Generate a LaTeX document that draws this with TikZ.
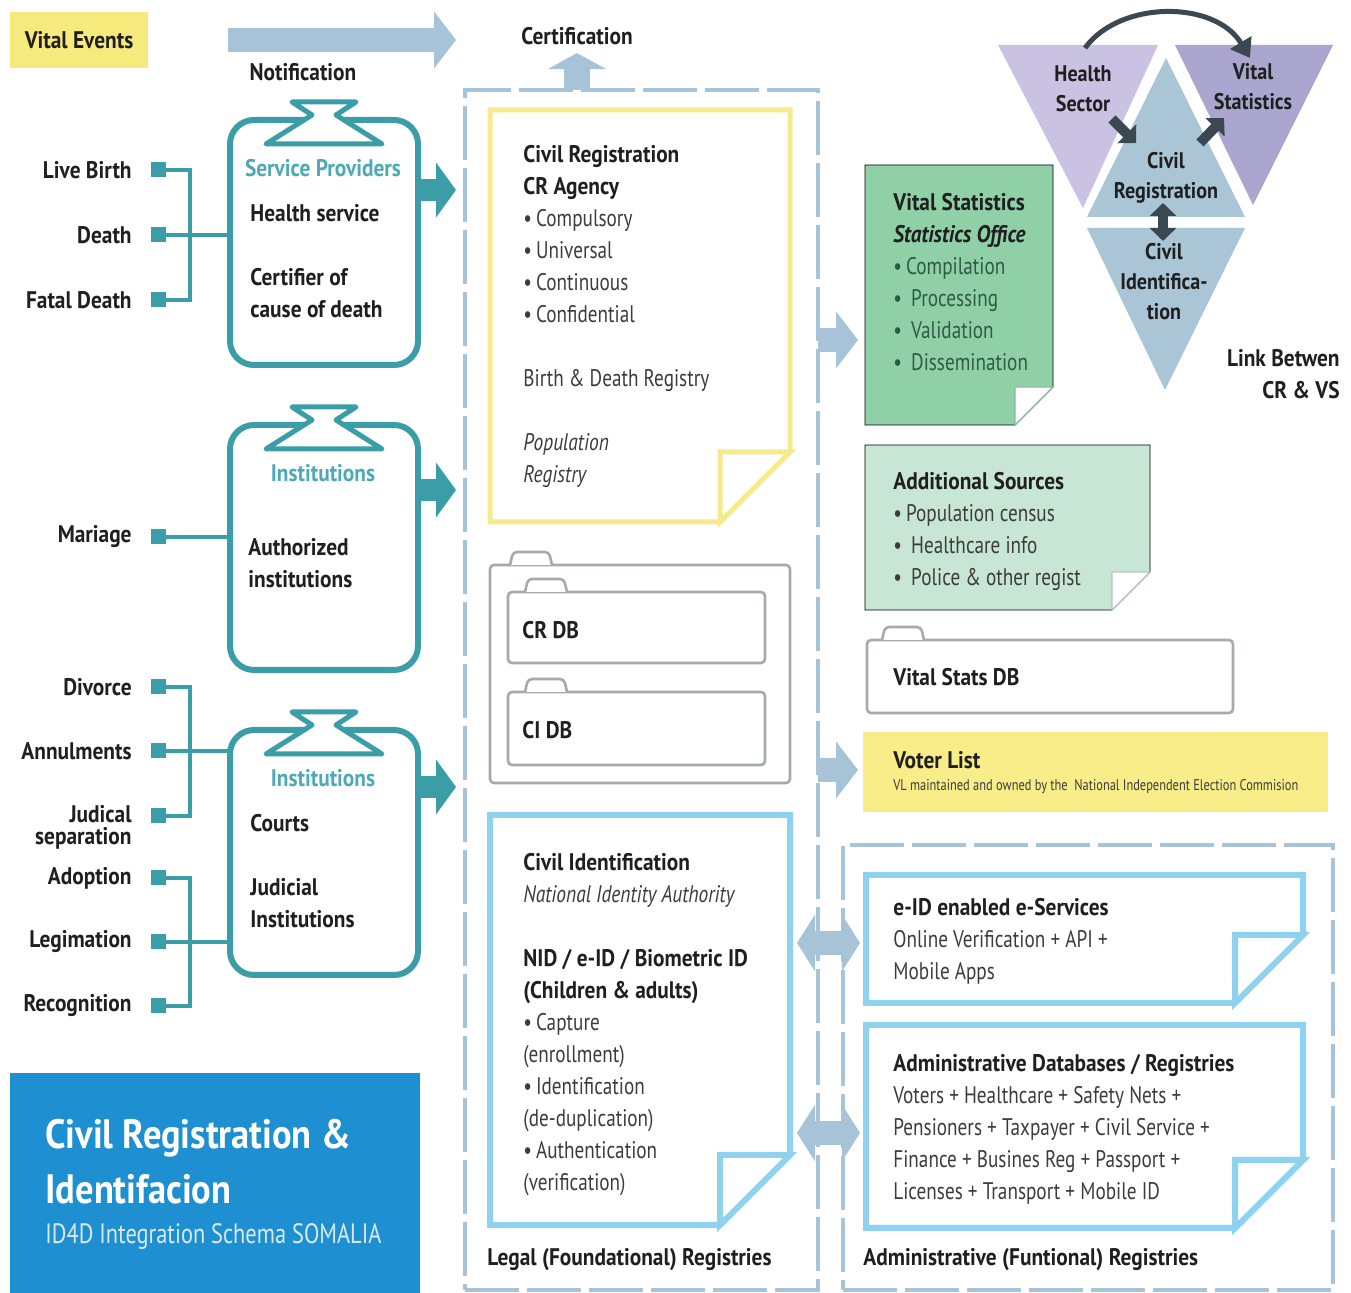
\documentclass[tikz,border=0pt]{standalone}
\usepackage{fontspec}
\setmainfont{PT Sans}[UprightFeatures={FakeStretch=0.80}, BoldFeatures={FakeStretch=0.89},
  ItalicFeatures={FakeStretch=0.81}, BoldItalicFeatures={FakeStretch=0.88}]
\usetikzlibrary{arrows.meta}

\definecolor{ink}{HTML}{1F1F1F}
\definecolor{bodygrey}{HTML}{3C3C3C}
\definecolor{provteal}{HTML}{3A9DA8}
\definecolor{headteal}{HTML}{4DAAB4}
\definecolor{flowblue}{HTML}{A7C3D7}
\definecolor{eventyellow}{HTML}{F7EA7C}
\definecolor{crline}{HTML}{F5EB8C}
\definecolor{ciline}{HTML}{8ED2F0}
\definecolor{vsgreen}{HTML}{8FD0A7}
\definecolor{asgreen}{HTML}{C8E6D5}
\definecolor{vsdark}{HTML}{2F5A48}
\definecolor{foldergrey}{HTML}{A3ABAD}
\definecolor{votefill}{HTML}{F8ED88}
\definecolor{titleblue}{HTML}{1E8FD0}
\definecolor{subwhite}{HTML}{D9EAF6}
\definecolor{hscol}{HTML}{CAC2E2}
\definecolor{vstri}{HTML}{ABA6CF}
\definecolor{crtri}{HTML}{A9C5D6}
\definecolor{darkarrow}{HTML}{3B4852}

% bold black heading inside a text block
\newcommand{\hd}[1]{{\bfseries\color{ink}#1}}
% folded paper outline around an empty node
\newcommand{\paperfold}[4]{%
  \draw[#3] (#1.north west) -- (#1.north east) -- ([yshift=#2]#1.south east)
    -- ([xshift=-#2]#1.south east) -- (#1.south west) -- cycle;
  \draw[#4] ([xshift=-#2]#1.south east) -- ([xshift=-#2,yshift=#2]#1.south east)
    -- ([yshift=#2]#1.south east) -- cycle;}
% tab on top of a folder
\newcommand{\foldertab}[2]{%
  \draw[folder] ([xshift=#2]#1.north west) -- ++(3,-13) -- ++(36,0) -- ++(3,13);}
% clip on top of a provider box
\newcommand{\holdertop}[1]{%
  \begin{scope}[shift={(#1.north)}]
    \draw[holder] (-32,-18) -- (32,-18) -- (12,-5) -- (58,24) -- (-58,24) -- (-12,-5) -- cycle;
  \end{scope}}

\begin{document}
\fontsize{12}{16}\selectfont
\begin{tikzpicture}[x=0.5pt, y=-0.5pt,
    evt/.style ={font=\bfseries, text=ink, anchor=east, align=right, inner sep=0pt},
    sq/.style ={fill=provteal, minimum size=7.5pt, inner sep=0pt},
    link/.style ={draw=provteal, line width=2pt},
    provider/.style ={draw=provteal, line width=3pt, rounded corners=12pt, fill=white,
      minimum width=94pt, minimum height=122.5pt, outer sep=0pt},
    holder/.style ={draw=provteal, line width=2.5pt, fill=white, line join=round},
    provhead/.style ={font=\bfseries, text=headteal},
    txt/.style ={align=left, anchor=north west, inner sep=0pt, text=bodygrey},
    lbl/.style ={font=\bfseries, text=ink, anchor=west, inner sep=0pt},
    tealarrow/.style ={draw=provteal, line width=11pt, -{Triangle[length=10pt,width=27pt]}},
    flowarrow/.style ={draw=flowblue, line width=12pt, -{Triangle[length=11pt,width=28pt]}},
    duplex/.style ={draw=flowblue, line width=12pt,
      {Triangle[length=9pt,width=28pt]}-{Triangle[length=9pt,width=28pt]}},
    dashbox/.style ={draw=flowblue, line width=2pt, dash pattern=on 27pt off 4pt,
      inner sep=0pt, outer sep=0pt},
    paper/.style ={inner sep=0pt, outer sep=0pt},
    folder/.style ={draw=foldergrey, line width=1.3pt, rounded corners=2pt, fill=white,
      inner sep=0pt, outer sep=0pt},
    trilbl/.style ={font=\bfseries\fontsize{11.3}{15}\selectfont, text=ink, align=center},
    darrow/.style ={draw=darkarrow, line width=5pt, -{Triangle[length=6.5pt,width=13pt]}}]
   \useasboundingbox[fill=white] (0,0) rectangle (1351,1293);

   % registries frames
   \node[dashbox, minimum width=176.5pt, minimum height=600pt] (legal) at (641.5,690) {};
   \node[dashbox, minimum width=245pt, minimum height=222.5pt] (admin) at (1088,1067.5) {};

   % vital events and notification
   \node[fill=eventyellow, minimum width=69pt, minimum height=28pt, font=\bfseries, text=ink] (ve) at (79,40) {Vital Events};
   \coordinate (notifA) at (228,40);
   \coordinate (notifB) at (456,40);
   \draw[flowarrow] (notifA) -- (notifB);
   \node[font=\bfseries, text=ink] (notif) at (303,72) {Notification};
   \node[font=\bfseries, text=ink] (cert) at (577,36) {Certification};
   \draw[draw=flowblue, line width=13pt, -{Triangle[length=8pt,width=29pt]}] (legal.north -| cert) -- (cert.south);

   % provider boxes
   \node[provider] (sp) at (324,242.5) {};
   \node[provider] (auth) at (324,547.5) {};
   \node[provider] (court) at (324,852.5) {};
   \holdertop{sp}
   \holdertop{auth}
   \holdertop{court}
   \node[provhead] (sphead) at (323,168) {Service Providers};
   \node[txt, font=\bfseries, text=ink] (sptext) at (250,204) {Health service\\[16pt]Certifier of\\cause of death};
   \node[provhead] (authhead) at (323,473) {Institutions};
   \node[txt, font=\bfseries, text=ink] (authtext) at (248,538) {Authorized\\institutions};
   \node[provhead] (courthead) at (323,778) {Institutions};
   \node[txt, font=\bfseries, text=ink] (courttext) at (250,814) {Courts\\[16pt]Judicial\\Institutions};
   \coordinate (spout) at (456,190);
   \coordinate (authout) at (456,490);
   \coordinate (courtout) at (456,787);
   \draw[tealarrow] (sp.east |- spout) -- (spout);
   \draw[tealarrow] (auth.east |- authout) -- (authout);
   \draw[tealarrow] (court.east |- courtout) -- (courtout);

   % vital events list
   \node[evt] (lb) at (132,170) {Live Birth};
   \node[evt] (de) at (132,235) {Death};
   \node[evt] (fd) at (132,300) {Fatal Death};
   \node[evt] (ma) at (132,537) {Mariage};
   \node[evt] (dv) at (132,687) {Divorce};
   \node[evt] (an) at (132,751) {Annulments};
   \node[evt, font=\bfseries\fontsize{12}{11}\selectfont] (js) at (132,827) {Judical\\separation};
   \node[evt] (ad) at (132,878) {Adoption};
   \node[evt] (lg) at (132,942) {Legimation};
   \node[evt] (rc) at (132,1006) {Recognition};
   \node[sq] (sqlb) at (158,170) {};
   \node[sq] (sqde) at (158,235) {};
   \node[sq] (sqfd) at (158,300) {};
   \node[sq] (sqma) at (158,537) {};
   \node[sq] (sqdv) at (158,687) {};
   \node[sq] (sqan) at (158,751) {};
   \node[sq] (sqjs) at (158,816) {};
   \node[sq] (sqad) at (158,878) {};
   \node[sq] (sqlg) at (158,942) {};
   \node[sq] (sqrc) at (158,1006) {};
   \coordinate (bus1) at (190,235);
   \coordinate (bus3) at (190,751);
   \coordinate (bus4) at (190,942);
   \draw[link] (sqlb.east) -| (bus1) |- (sqfd.east);
   \draw[link] (sqde.east) -- (sqde -| sp.west);
   \draw[link] (sqma.east) -- (sqma -| auth.west);
   \draw[link] (sqdv.east) -| (bus3) |- (sqjs.east);
   \draw[link] (sqan.east) -- (sqan -| court.west);
   \draw[link] (sqad.east) -| (bus4) |- (sqrc.east);
   \draw[link] (sqlg.east) -- (sqlg -| court.west);

   % title
   \node[fill=titleblue, minimum width=205pt, minimum height=115pt, anchor=north west, inner sep=0pt] (titlebox) at (10,1073) {};
   \node[anchor=west, text=white, font=\bfseries\fontsize{20.5}{27.5}\selectfont, align=left, inner sep=0pt] (ttl) at (45,1162) {Civil Registration \&\\Identifacion};
   \node[anchor=west, text=subwhite, font=\fontsize{14}{16}\selectfont, inner sep=0pt] (subttl) at (45,1237) {ID4D Integration Schema SOMALIA};

   % legal registries
   \node[paper, minimum width=150pt, minimum height=206pt] (crdoc) at (640,316) {};
   \paperfold{crdoc}{35pt}{draw=crline, line width=2.5pt, fill=white}{draw=crline, line width=2.5pt, fill=white}
   \node[txt] (crtext) at (523,145) {\hd{Civil Registration}\\ \hd{CR Agency}\\ •\,Compulsory\\ •\,Universal\\ •\,Continuous\\ •\,Confidential\\[16pt] Birth \& Death Registry\\[16pt] \textit{Population}\\ \textit{Registry}};

   \node[folder, minimum width=150pt, minimum height=109pt] (dbs) at (640,674) {};
   \foldertab{dbs}{10pt}
   \node[folder, minimum width=128.5pt, minimum height=35.5pt] (crdb) at (636.5,627.5) {};
   \foldertab{crdb}{8.5pt}
   \node[folder, minimum width=128.5pt, minimum height=36.5pt] (cidb) at (636.5,728.5) {};
   \foldertab{cidb}{8.5pt}
   \node[lbl] (crdblbl) at (522,630) {CR DB};
   \node[lbl] (cidblbl) at (522,730) {CI DB};

   \node[paper, minimum width=150pt, minimum height=205pt] (cidoc) at (640,1020) {};
   \paperfold{cidoc}{35pt}{draw=ciline, line width=3pt, fill=white}{draw=ciline, line width=3pt, fill=white}
   \node[txt] (citext) at (523,853) {\hd{Civil Identification}\\ \textit{National Identity Authority}\\[16pt] \hd{NID / e-ID / Biometric ID}\\ \hd{(Children \& adults)}\\ •\,Capture\\ (enrollment)\\ •\,Identification\\ (de-duplication)\\ •\,Authentication\\ (verification)};
   \node[lbl] (legallbl) at (487,1260) {Legal (Foundational) Registries};

   % statistics side
   \node[paper, minimum width=94pt, minimum height=130pt] (vs) at (959,295) {};
   \paperfold{vs}{19pt}{fill=vsgreen}{fill=white, draw=vsgreen!70!gray, line width=0.6pt}
   \node[txt, text=vsdark] (vstext) at (893,193) {\hd{Vital Statistics}\\ \hd{\itshape Statistics Office}\\ •\,Compilation\\ •\ \,Processing\\ •\ \,Validation\\ •\ \,Dissemination};
   \node[paper, minimum width=142.5pt, minimum height=82.5pt] (as) at (1007.5,527.5) {};
   \paperfold{as}{19pt}{fill=asgreen}{fill=white, draw=asgreen!70!gray, line width=0.6pt}
   \node[txt] (astext) at (893,472) {\hd{Additional Sources}\\ •\,Population census\\ •\ \,Healthcare info\\ •\ \,Police \& other regist};
   \node[folder, minimum width=183pt, minimum height=36.5pt] (vsdb) at (1050,676.5) {};
   \foldertab{vsdb}{7.5pt}
   \node[lbl] (vsdblbl) at (893,677) {Vital Stats DB};
   \node[fill=votefill, minimum width=232.5pt, minimum height=40pt, inner sep=0pt] (voter) at (1095.5,772) {};
   \node[lbl] (voterlbl) at (893,760) {Voter List};
   \node[anchor=west, inner sep=0pt, text=bodygrey, font=\fontsize{7.75}{9}\selectfont] (voternote) at (893,787) {VL maintained and owned by the~ National Independent Election Commision};

   % administrative registries
   \node[paper, minimum width=218.5pt, minimum height=64pt] (eid) at (1084.5,939) {};
   \paperfold{eid}{34pt}{draw=ciline, line width=3pt, fill=white}{draw=ciline, line width=3pt, fill=white}
   \node[txt] (eidtext) at (893,898) {\hd{e-ID enabled e-Services}\\ Online Verification + API +\\ Mobile Apps};
   \node[paper, minimum width=218.5pt, minimum height=101.5pt] (adm) at (1084.5,1126.5) {};
   \paperfold{adm}{34pt}{draw=ciline, line width=3pt, fill=white}{draw=ciline, line width=3pt, fill=white}
   \node[txt] (admtext) at (893,1054) {\hd{Administrative Databases / Registries}\\ Voters + Healthcare + Safety Nets +\\ Pensioners + Taxpayer + Civil Service +\\ Finance + Busines Reg + Passport +\\ Licenses + Transport + Mobile ID};
   \node[lbl] (admlbl) at (863,1260) {Administrative (Funtional) Registries};

   % flows between columns
   \coordinate (vsin) at (858,340);
   \coordinate (vlin) at (858,770);
   \draw[flowarrow] (legal.east |- vsin) -- (vsin);
   \draw[flowarrow] (legal.east |- vlin) -- (vlin);
   \coordinate (eidL) at (797,943);
   \coordinate (eidR) at (860,943);
   \coordinate (admL) at (797,1133);
   \coordinate (admR) at (860,1133);
   \draw[duplex] (eidL) -- (eidR);
   \draw[duplex] (admL) -- (admR);

   % link between CR and VS
   \fill[hscol] (998,45) -- (1158,45) -- (1083,208) -- cycle;
   \fill[vstri] (1175,45) -- (1333,45) -- (1253,205) -- cycle;
   \fill[crtri] (1166,58) -- (1245,217) -- (1087,217) -- cycle;
   \fill[crtri] (1087,228) -- (1245,228) -- (1165,390) -- cycle;
   \node[trilbl] (hs) at (1083,89) {Health\\Sector};
   \node[trilbl] (vstat) at (1253,87) {Vital\\Statistics};
   \node[trilbl] (cr) at (1166,178) {Civil\\Registration};
   \node[trilbl] (ci) at (1164,282) {Civil\\Identifica-\\tion};
   \coordinate (hsTop) at (1085,48);
   \coordinate (vsTop) at (1250,58);
   \draw[draw=darkarrow, line width=2.5pt, -{Triangle[length=9pt,width=12pt]}] (hsTop) .. controls (1120,0) and (1215,0) .. (vsTop);
   \coordinate (hsA) at (1112,119);
   \coordinate (hsB) at (1136,143);
   \coordinate (vsA) at (1200,143);
   \coordinate (vsB) at (1224,118);
   \coordinate (crA) at (1163,203);
   \coordinate (ciA) at (1163,241);
   \draw[darrow] (hsA) -- (hsB);
   \draw[darrow] (vsA) -- (vsB);
   \draw[darrow, {Triangle[length=6.5pt,width=13pt]}-{Triangle[length=6.5pt,width=13pt]}] (crA) -- (ciA);
   \node[anchor=east, align=right, font=\bfseries, text=ink, inner sep=0pt] (linklbl) at (1340,374) {Link Betwen\\CR \& VS};
\end{tikzpicture}
\end{document}
